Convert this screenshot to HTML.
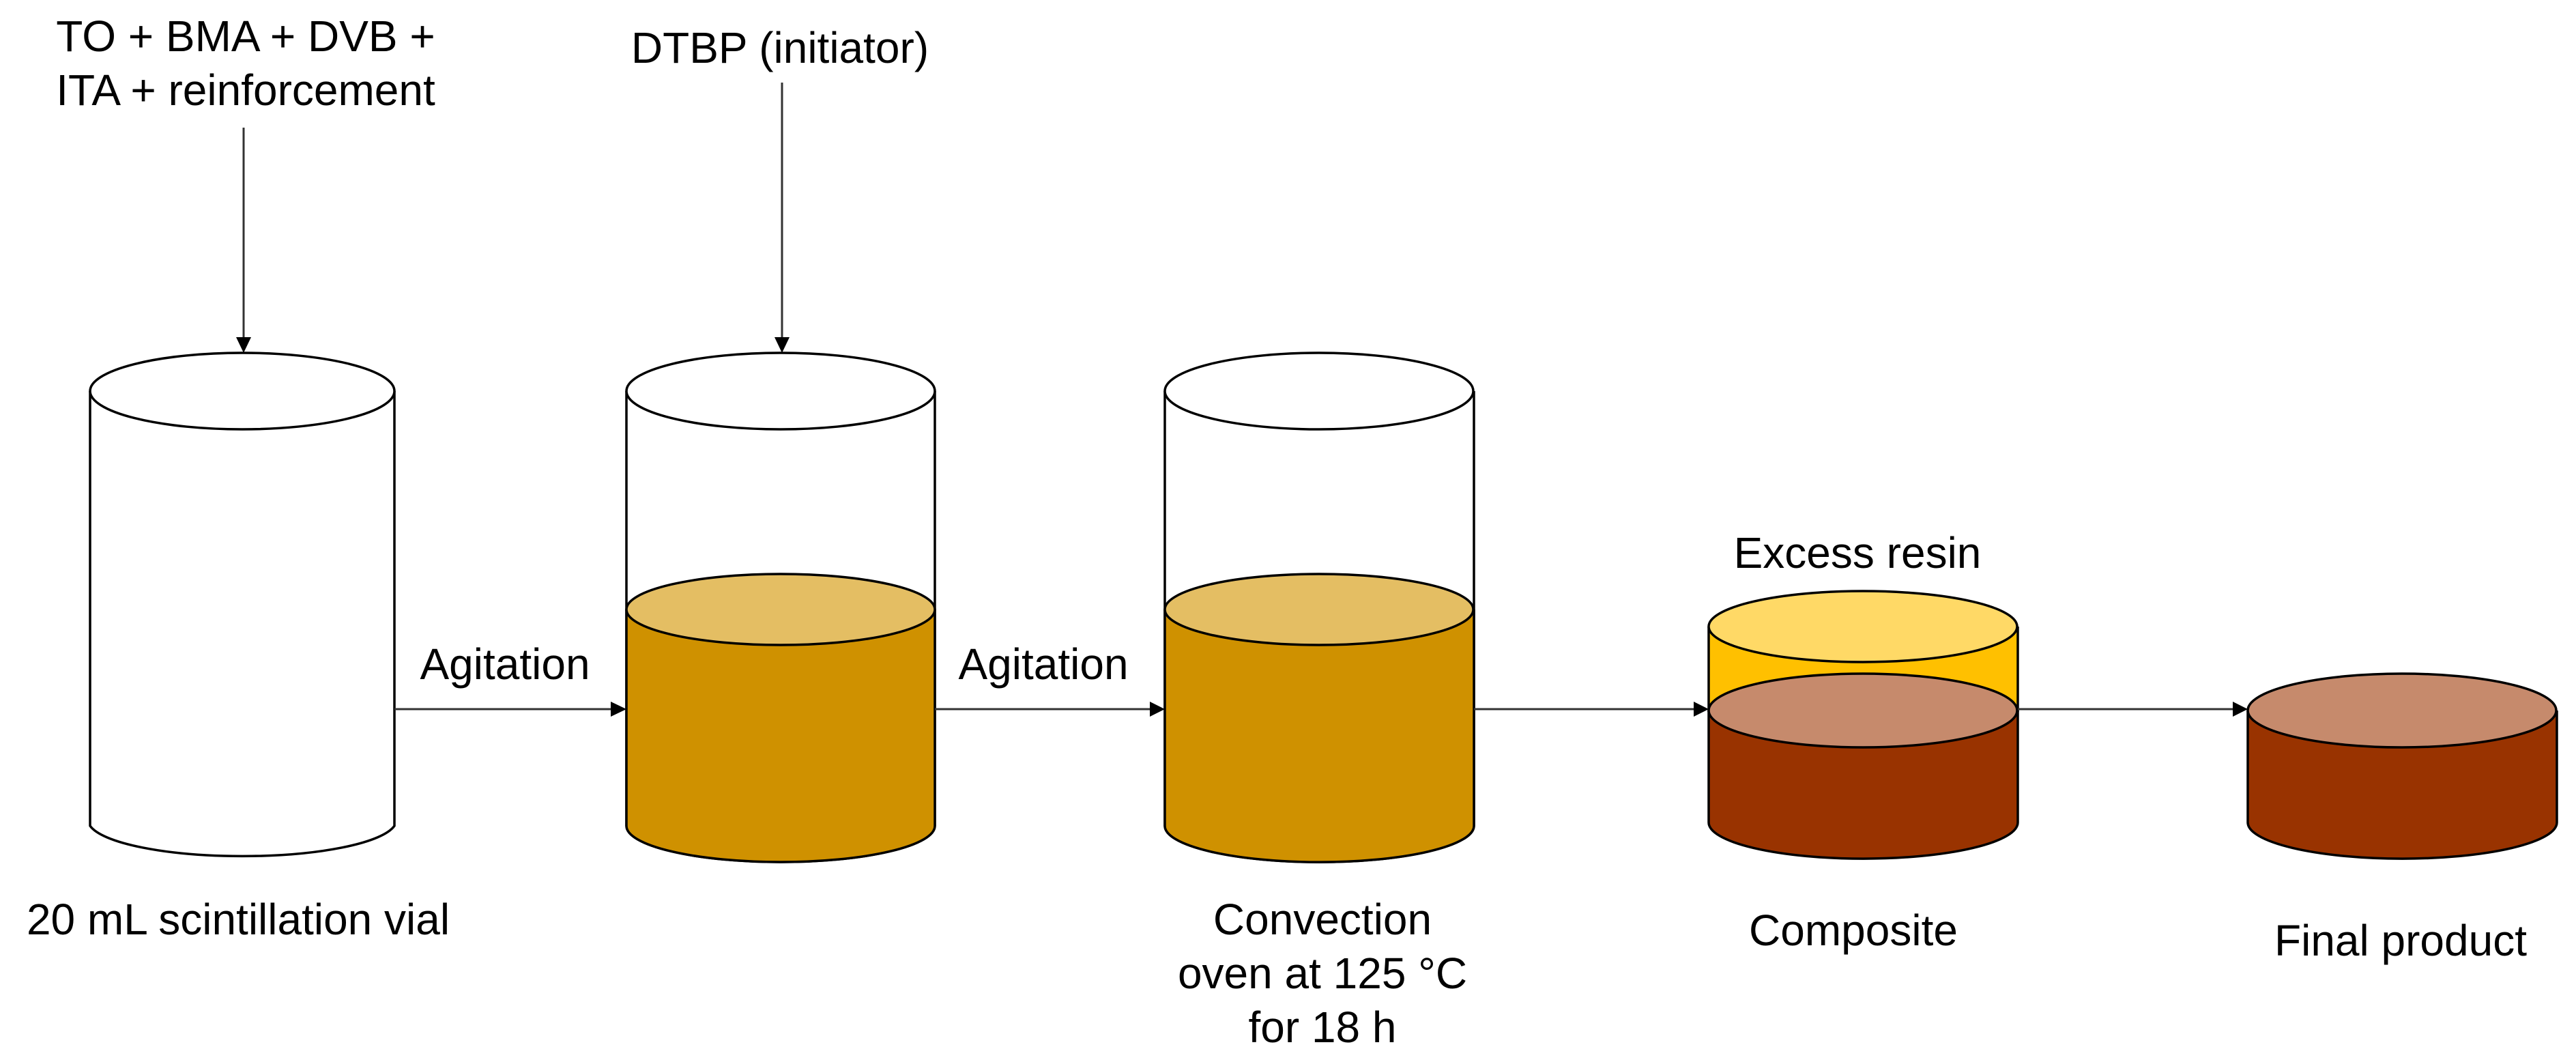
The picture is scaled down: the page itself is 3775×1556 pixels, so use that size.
<!DOCTYPE html>
<html><head><meta charset="utf-8"><style>
html,body{margin:0;padding:0;background:#fff;}
svg{display:block;}
text{font-family:"Liberation Sans",Arial,sans-serif;font-size:64px;fill:#000;}
</style></head><body>
<svg width="3775" height="1556" viewBox="0 0 3775 1556" xmlns="http://www.w3.org/2000/svg">
<defs>
<marker id="ah" markerWidth="10" markerHeight="10" refX="9" refY="5" orient="auto" markerUnits="userSpaceOnUse" viewBox="0 0 10 10">
</marker>
</defs>
<g stroke="#000" stroke-width="3.5">
<!-- Cylinder 1 -->
<path d="M132,573 V1210 A226,53 0 0 0 578,1210 V573" fill="#fff"/>
<ellipse cx="355" cy="573" rx="223" ry="56" fill="#fff"/>
<!-- Cylinder 2 -->
<path d="M918,573 V1210 A226,53 0 0 0 1370,1210 V573" fill="#fff"/>
<path d="M918,893 V1210 A226,53 0 0 0 1370,1210 V893" fill="#CF9100"/>
<ellipse cx="1144" cy="893" rx="226" ry="52" fill="#E4BE63"/>
<ellipse cx="1144" cy="573" rx="226" ry="56" fill="#fff"/>
<!-- Cylinder 3 -->
<path d="M1707,573 V1210 A226,53 0 0 0 2160,1210 V573" fill="#fff"/>
<path d="M1707,893 V1210 A226,53 0 0 0 2160,1210 V893" fill="#CF9100"/>
<ellipse cx="1933" cy="893" rx="226" ry="52" fill="#E4BE63"/>
<ellipse cx="1933" cy="573" rx="226" ry="56" fill="#fff"/>
<!-- Composite -->
<path d="M2504,918 V1041 H2957 V918" fill="#FFC000"/>
<ellipse cx="2730" cy="918" rx="226" ry="52" fill="#FFD966"/>
<path d="M2504,1041 V1205 A226,53 0 0 0 2957,1205 V1041" fill="#993300"/>
<ellipse cx="2730" cy="1041" rx="226" ry="54" fill="#C68A6C"/>
<!-- Final -->
<path d="M3294,1041 V1205 A226,53 0 0 0 3747,1205 V1041" fill="#993300"/>
<ellipse cx="3520" cy="1041" rx="226" ry="54" fill="#C68A6C"/>
</g>
<!-- arrows -->
<g stroke="#333" stroke-width="3" fill="none">
<line x1="357" y1="187" x2="357" y2="496"/>
<line x1="1146" y1="121" x2="1146" y2="496"/>
<line x1="578" y1="1039" x2="896" y2="1039"/>
<line x1="1370" y1="1039" x2="1686" y2="1039"/>
<line x1="2160" y1="1039" x2="2483" y2="1039"/>
<line x1="2957" y1="1039" x2="3273" y2="1039"/>
</g>
<g fill="#000">
<polygon points="346,494 368,494 357,517"/>
<polygon points="1135,494 1157,494 1146,517"/>
<polygon points="895,1028 895,1050 918,1039"/>
<polygon points="1685,1028 1685,1050 1707,1039"/>
<polygon points="2482,1028 2482,1050 2504,1039"/>
<polygon points="3272,1028 3272,1050 3294,1039"/>
</g>
<text x="360" y="75" text-anchor="middle">TO + BMA + DVB +</text>
<text x="360" y="154" text-anchor="middle">ITA + reinforcement</text>
<text x="1143" y="92" text-anchor="middle">DTBP (initiator)</text>
<text x="740" y="995" text-anchor="middle">Agitation</text>
<text x="1529" y="995" text-anchor="middle">Agitation</text>
<text x="349" y="1369" text-anchor="middle">20 mL scintillation vial</text>
<text x="1938" y="1369" text-anchor="middle">Convection</text>
<text x="1938" y="1448" text-anchor="middle">oven at 125 °C</text>
<text x="1938" y="1527" text-anchor="middle">for 18 h</text>
<text x="2722" y="832" text-anchor="middle">Excess resin</text>
<text x="2716" y="1385" text-anchor="middle">Composite</text>
<text x="3518" y="1400" text-anchor="middle">Final product</text>
</svg>
</body></html>
